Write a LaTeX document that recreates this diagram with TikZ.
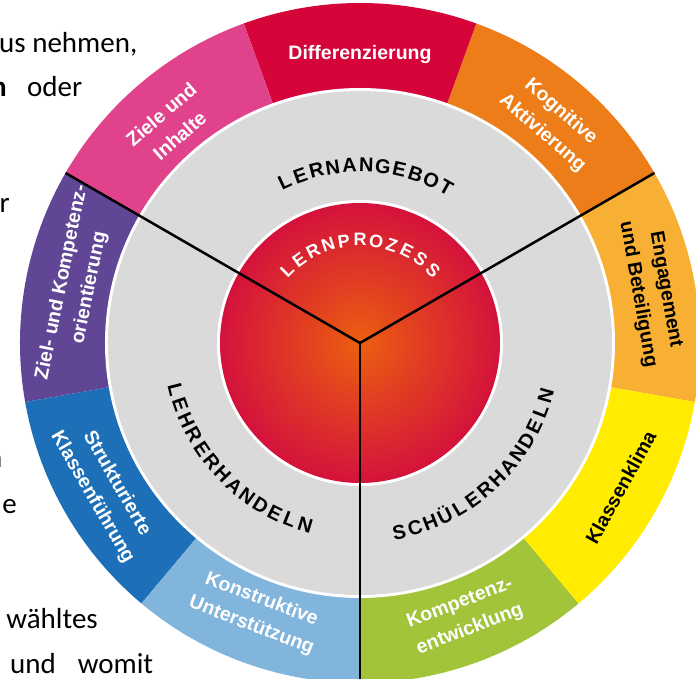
\documentclass[tikz,border=0pt]{standalone}
\usepackage{fontspec}
\usepackage{tikz}
\setmainfont{Carlito}
\newfontfamily\feldfont{Liberation Sans}
\definecolor{engag}{RGB}{247,176,51}
\definecolor{kogn}{RGB}{237,125,24}
\definecolor{diff}{RGB}{213,5,58}
\definecolor{ziele}{RGB}{224,67,140}
\definecolor{zielkomp}{RGB}{97,70,150}
\definecolor{struk}{RGB}{29,112,183}
\definecolor{konst}{RGB}{129,181,220}
\definecolor{kompet}{RGB}{161,196,58}
\definecolor{klima}{RGB}{255,236,0}
\definecolor{grau}{RGB}{218,218,218}
\definecolor{kernmitte}{RGB}{235,95,15}
\definecolor{kernrand}{RGB}{212,18,60}

\begin{document}
\begin{tikzpicture}
  [x = 1pt, y = 1pt,
   fliess/.style = {font = \fontsize{29}{35}\selectfont, inner sep = 0pt},
   feld/.style = {font = \feldfont\bfseries\fontsize{19.5}{28}\selectfont, text = white, align = center, inner sep = 0pt},
   ring/.style = {font = \feldfont\bfseries\fontsize{20}{20}\selectfont, inner sep = 0pt, text height = 14pt, text depth = 0pt},
   strich/.style = {line width = 2.5pt, black}]
  \useasboundingbox (-360,-336) rectangle (336,343);
  \clip (-360,-336) rectangle (336,343);
  \coordinate (mitte) at (0,0);
  \node[fliess, anchor = base west] (z1) at (-361,290) {us nehmen,};
  \node[fliess, anchor = base east] (z2a) at (-353,246) {\textbf{n}};
  \node[fliess, anchor = base west] (z2b) at (-333,246) {oder};
  \node[fliess, anchor = base east] (z3) at (-350,130) {r};
  \node[fliess, anchor = base east] (z4) at (-357.5,-125) {n};
  \node[fliess, anchor = base east] (z5) at (-343,-171) {e};
  \node[fliess, anchor = base east] (z6) at (-262,-285) {wähltes};
  \node[fliess, anchor = base west] (z7) at (-350,-330) {und\hspace{22pt}womit};
  \foreach \farbe [count = \i] in {engag,kogn,diff,ziele,zielkomp,struk,konst,kompet,klima}{
    \fill[\farbe] (mitte) -- ({40*\i-50}:340) arc [start angle = {40*\i-50}, end angle = {40*\i-10}, radius = 340] -- cycle;
  }
  \fill[white] (mitte) circle (255);
  \fill[grau] (mitte) circle (252);
  \fill[white] (mitte) circle (143);
  \shade[inner color = kernmitte, outer color = kernrand] (mitte) circle (140);
  \foreach \ch [count = \i] in {L,E,R,N,A,N,G,E,B,O,T}{
    \node[ring, rotate = {88+5.4*(6-\i)-90}] (angebot-\i) at ({88+5.4*(6-\i)}:178) {\ch};
  }
  \foreach \ch [count = \i] in {L,E,R,N,P,R,O,Z,E,S,S}{
    \node[ring, text = white, font = \feldfont\bfseries\fontsize{18}{18}\selectfont, rotate = {90+9*(6-\i)-90}] (prozess-\i) at ({90+9*(6-\i)}:104) {\ch};
  }
  \foreach \ch [count = \i] in {L,E,H,R,E,R,H,A,N,D,E,L,N}{
    \node[ring, rotate = {223.7+4.93*(\i-7)+90}] (lehrer-\i) at ({223.7+4.93*(\i-7)}:190) {\ch};
  }
  \foreach \ch [count = \i] in {S,C,H,Ü,L,E,R,H,A,N,D,E,L,N}{
    \node[ring, rotate = {312.9+4.79*(\i-7.5)+90}] (schueler-\i) at ({312.9+4.79*(\i-7.5)}:193) {\ch};
  }
  \node[feld] (differenzierung) at (90:288) {Differenzierung};
  \node[feld, rotate = -41] (kognitiv) at (49:292) {Kognitive\\Aktivierung};
  \node[feld, rotate = 41] (inhalte) at (131:289) {Ziele und\\Inhalte};
  \node[feld, rotate = 78.5] (orientierung) at (168.5:290) {Ziel- und Kompetenz-\\orientierung};
  \node[feld, rotate = -60] (fuehrung) at (210:295) {Strukturierte\\Klassenführung};
  \node[feld, rotate = -21] (unterstuetzung) at (249:289) {Konstruktive\\Unterstützung};
  \node[feld, rotate = 21] (entwicklung) at (291:293) {Kompetenz-\\entwicklung};
  \node[feld, text = black, rotate = 61] (klassenklima) at (331:298) {Klassenklima};
  \node[feld, text = black, rotate = -80] (beteiligung) at (9.9:296) {Engagement\\und Beteiligung};
  \coordinate (rand-lo) at (150:340);
  \coordinate (rand-ro) at (30:340);
  \coordinate (rand-u) at (270:340);
  \draw[strich] (mitte) -- (rand-lo);
  \draw[strich] (mitte) -- (rand-ro);
  \draw[strich] (mitte) -- (rand-u);
\end{tikzpicture}
\end{document}
